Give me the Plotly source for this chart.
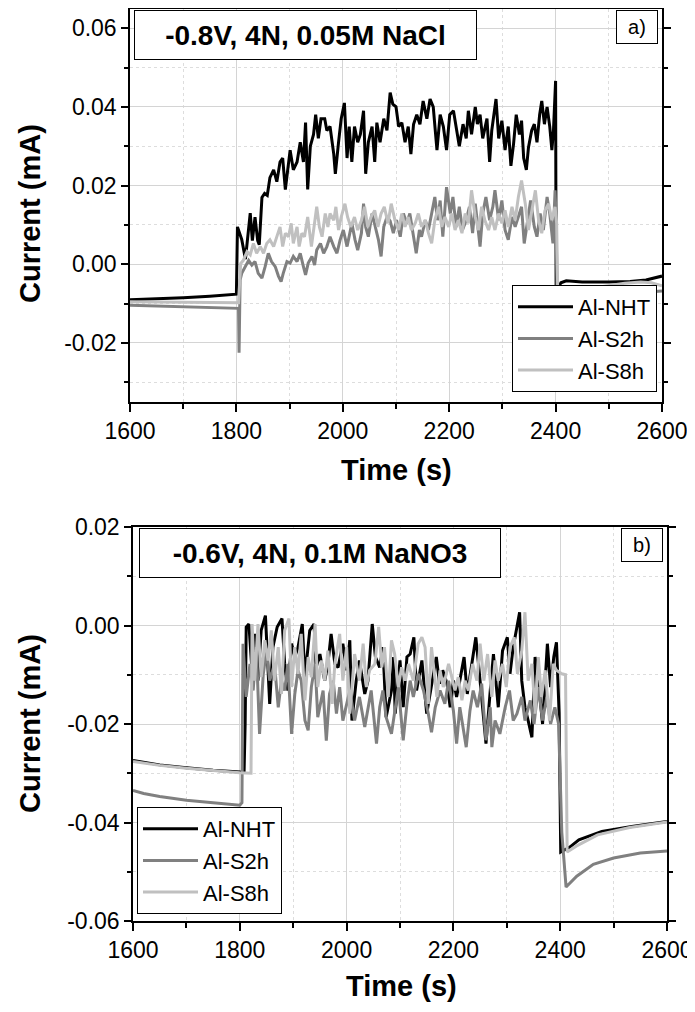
import plotly.graph_objects as go
from plotly.subplots import make_subplots

# ---------------- data: panel a) -0.8V, 4N, 0.05M NaCl ----------------
a_nht_t = [1600, 1650, 1700, 1750, 1800, 1802, 1810, 1817, 1823, 1826, 1830, 1835, 1840, 1843, 1848,
           1853, 1858, 1863, 1870, 1876, 1882, 1887, 1892, 1897, 1901, 1907, 1914, 1920, 1926, 1930,
           1934, 1939, 1945, 1949, 1954, 1959, 1966, 1970, 1976, 1983, 1986, 1992, 1997, 2003, 2008,
           2012, 2017, 2022, 2028, 2033, 2039, 2043, 2048, 2055, 2060, 2064, 2070, 2077, 2083, 2089,
           2094, 2100, 2105, 2111, 2117, 2123, 2128, 2133, 2139, 2145, 2151, 2158, 2164, 2170, 2177,
           2183, 2189, 2195, 2201, 2208, 2214, 2219, 2226, 2232, 2236, 2242, 2249, 2253, 2258, 2263,
           2271, 2276, 2280, 2288, 2293, 2299, 2305, 2311, 2316, 2321, 2326, 2332, 2336, 2340, 2345,
           2349, 2355, 2360, 2365, 2370, 2374, 2379, 2384, 2389, 2393, 2396, 2400, 2401, 2405, 2410,
           2420, 2450, 2500, 2540, 2570, 2590, 2600]
a_nht_i = [-0.0090, -0.0088, -0.0085, -0.0081, -0.0076, 0.0095, 0.0063, 0.0013, 0.0090, 0.0130, 0.0060,
           0.0120, 0.0060, 0.0050, 0.0170, 0.0180, 0.0175, 0.0220, 0.0240, 0.0210, 0.0260, 0.0270,
           0.0190, 0.0250, 0.0290, 0.0240, 0.0260, 0.0310, 0.0260, 0.0360, 0.0190, 0.0300, 0.0330,
           0.0380, 0.0320, 0.0370, 0.0370, 0.0340, 0.0350, 0.0280, 0.0230, 0.0310, 0.0370, 0.0410,
           0.0270, 0.0350, 0.0260, 0.0350, 0.0310, 0.0330, 0.0390, 0.0230, 0.0310, 0.0350, 0.0260,
           0.0360, 0.0310, 0.0370, 0.0340, 0.0436, 0.0407, 0.0400, 0.0350, 0.0360, 0.0310, 0.0350,
           0.0280, 0.0356, 0.0380, 0.0356, 0.0415, 0.0370, 0.0420, 0.0400, 0.0290, 0.0380, 0.0350,
           0.0290, 0.0380, 0.0390, 0.0340, 0.0300, 0.0356, 0.0320, 0.0390, 0.0330, 0.0400, 0.0356,
           0.0380, 0.0320, 0.0370, 0.0260, 0.0340, 0.0420, 0.0320, 0.0365, 0.0290, 0.0350, 0.0250,
           0.0306, 0.0380, 0.0330, 0.0365, 0.0270, 0.0240, 0.0297, 0.0340, 0.0356, 0.0310, 0.0380,
           0.0415, 0.0356, 0.0400, 0.0350, 0.0290, 0.0340, 0.0466, -0.0075, -0.0060, -0.0047,
           -0.0042, -0.0045, -0.0045, -0.0044, -0.0040, -0.0034, -0.0030]

a_s2h_t = [1600, 1700, 1800, 1804, 1805, 1807, 1810, 1816, 1823, 1829, 1835, 1841, 1848, 1854, 1860,
           1866, 1873, 1879, 1884, 1888, 1895, 1901, 1907, 1914, 1920, 1926, 1930, 1935, 1942, 1947,
           1951, 1958, 1964, 1970, 1976, 1983, 1989, 1995, 2001, 2008, 2012, 2017, 2023, 2028, 2035,
           2039, 2043, 2048, 2055, 2061, 2067, 2072, 2077, 2083, 2089, 2095, 2101, 2108, 2114, 2120,
           2126, 2133, 2138, 2144, 2148, 2155, 2161, 2167, 2173, 2178, 2183, 2188, 2195, 2202, 2207,
           2213, 2219, 2225, 2232, 2238, 2244, 2249, 2253, 2258, 2263, 2269, 2276, 2282, 2286, 2293,
           2299, 2305, 2311, 2318, 2324, 2330, 2336, 2341, 2347, 2353, 2360, 2365, 2371, 2377, 2384,
           2389, 2395, 2399, 2401, 2403, 2410, 2450, 2500, 2550, 2600]
a_s2h_i = [-0.0104, -0.0107, -0.0110, -0.0112, -0.0225, -0.0040, -0.0023, -0.0006, 0.0010, -0.0002,
           0.0007, -0.0023, -0.0035, -0.0006, 0.0028, 0.0007, -0.0006, -0.0030, -0.0044, -0.0023,
           0.0007, 0.0003, 0.0020, 0.0007, 0.0028, -0.0006, -0.0027, 0.0003, 0.0020, -0.0002, 0.0036,
           0.0053, 0.0028, 0.0045, 0.0070, 0.0045, 0.0028, 0.0062, 0.0087, 0.0045, 0.0070, 0.0104,
           0.0062, 0.0036, 0.0079, 0.0154, 0.0095, 0.0070, 0.0129, 0.0095, 0.0062, 0.0020, 0.0095,
           0.0120, 0.0110, 0.0079, 0.0112, 0.0070, 0.0129, 0.0104, 0.0129, 0.0070, 0.0028, 0.0087,
           0.0070, 0.0112, 0.0087, 0.0129, 0.0171, 0.0112, 0.0162, 0.0070, 0.0196, 0.0129, 0.0171,
           0.0095, 0.0146, 0.0087, 0.0112, 0.0146, 0.0079, 0.0154, 0.0112, 0.0045, 0.0129, 0.0171,
           0.0112, 0.0146, 0.0188, 0.0112, 0.0162, 0.0087, 0.0062, 0.0120, 0.0095, 0.0120, 0.0146,
           0.0053, 0.0104, 0.0162, 0.0095, 0.0070, 0.0129, 0.0087, 0.0171, 0.0129, 0.0053, 0.0188,
           0.0112, -0.0085, -0.0086, -0.0082, -0.0078, -0.0073, -0.0068]

a_s8h_t = [1600, 1700, 1800, 1804, 1808, 1813, 1820, 1826, 1832, 1838, 1845, 1851, 1857, 1863, 1870,
           1876, 1882, 1887, 1892, 1898, 1903, 1907, 1914, 1918, 1923, 1928, 1934, 1941, 1947, 1951,
           1956, 1961, 1967, 1972, 1976, 1983, 1987, 1992, 1997, 2004, 2009, 2015, 2022, 2028, 2035,
           2041, 2047, 2053, 2060, 2066, 2072, 2078, 2085, 2091, 2098, 2105, 2111, 2117, 2123, 2129,
           2136, 2142, 2148, 2155, 2161, 2167, 2173, 2180, 2186, 2192, 2199, 2205, 2211, 2217, 2224,
           2230, 2236, 2242, 2249, 2255, 2261, 2267, 2274, 2280, 2286, 2293, 2299, 2305, 2311, 2318,
           2324, 2330, 2336, 2343, 2349, 2355, 2362, 2368, 2374, 2380, 2387, 2393, 2399, 2402, 2404,
           2410, 2430, 2460, 2500, 2530, 2560, 2580, 2600]
a_s8h_i = [-0.0095, -0.0096, -0.0098, -0.0098, 0.0002, 0.0010, 0.0032, 0.0024, 0.0053, 0.0028, 0.0045,
           0.0028, 0.0053, 0.0062, 0.0045, 0.0070, 0.0095, 0.0045, 0.0079, 0.0070, 0.0104, 0.0053,
           0.0095, 0.0045, 0.0079, 0.0070, 0.0120, 0.0045, 0.0104, 0.0146, 0.0095, 0.0070, 0.0129,
           0.0095, 0.0129, 0.0112, 0.0146, 0.0087, 0.0120, 0.0154, 0.0120, 0.0095, 0.0120, 0.0087,
           0.0112, 0.0146, 0.0095, 0.0120, 0.0137, 0.0095, 0.0129, 0.0146, 0.0104, 0.0154, 0.0112,
           0.0087, 0.0129, 0.0095, 0.0120, 0.0087, 0.0104, 0.0129, 0.0095, 0.0112, 0.0079, 0.0053,
           0.0112, 0.0146, 0.0095, 0.0120, 0.0095, 0.0129, 0.0087, 0.0112, 0.0079, 0.0129, 0.0104,
           0.0188, 0.0120, 0.0087, 0.0146, 0.0112, 0.0087, 0.0120, 0.0087, 0.0129, 0.0104, 0.0137,
           0.0095, 0.0146, 0.0112, 0.0171, 0.0213, 0.0154, 0.0087, 0.0129, 0.0188, 0.0112, 0.0079,
           0.0137, 0.0154, 0.0112, 0.0146, 0.0104, -0.0073, -0.0075, -0.0068, -0.0062, -0.0055,
           -0.0048, -0.0045, -0.0047, -0.0055]

# ---------------- data: panel b) -0.6V, 4N, 0.1M NaNO3 ----------------
b_nht_t = [1600, 1650, 1700, 1750, 1808, 1810, 1812, 1817, 1822, 1828, 1834, 1840, 1848, 1856, 1862,
           1870, 1879, 1884, 1890, 1897, 1903, 1909, 1917, 1922, 1931, 1939, 1943, 1950, 1959, 1965,
           1971, 1978, 1984, 1993, 2000, 2006, 2010, 2018, 2024, 2034, 2040, 2048, 2054, 2062, 2068,
           2074, 2084, 2088, 2091, 2094, 2100, 2106, 2113, 2119, 2126, 2131, 2141, 2150, 2156, 2168,
           2174, 2180, 2188, 2194, 2200, 2206, 2212, 2220, 2226, 2234, 2242, 2247, 2255, 2261, 2269,
           2275, 2284, 2292, 2301, 2306, 2312, 2319, 2324, 2328, 2334, 2340, 2347, 2353, 2359, 2367,
           2376, 2382, 2388, 2393, 2398, 2401, 2418, 2435, 2478, 2534, 2600]
b_nht_i = [-0.0274, -0.0283, -0.0289, -0.0294, -0.0298, -0.0200, -0.0003, 0.0003, -0.0078, -0.0017,
           -0.0112, -0.0010, 0.0020, -0.0159, -0.0044, -0.0003, 0.0014, -0.0078, -0.0132, -0.0037,
           -0.0064, -0.0044, 0.0003, -0.0105, -0.0010, 0.0003, -0.0085, -0.0058, -0.0112, -0.0078,
           -0.0017, -0.0078, -0.0085, -0.0037, -0.0091, -0.0030, -0.0193, -0.0112, -0.0071, -0.0139,
           -0.0112, 0.0003, -0.0064, -0.0085, -0.0044, -0.0186, -0.0132, -0.0064, -0.0179, -0.0145,
           -0.0071, -0.0166, -0.0064, -0.0058, -0.0024, -0.0132, -0.0071, -0.0179, -0.0139, -0.0064,
           -0.0118, -0.0091, -0.0118, -0.0166, -0.0112, -0.0145, -0.0112, -0.0064, -0.0139, -0.0085,
           -0.0024, -0.0078, -0.0166, -0.0240, -0.0132, -0.0058, -0.0166, -0.0051, -0.0024, -0.0098,
           -0.0044, -0.0003, 0.0027, -0.0112, -0.0166, -0.0193, -0.0227, -0.0064, -0.0112, -0.0200,
           -0.0037, -0.0125, -0.0064, -0.0034, -0.0179, -0.0460, -0.0450, -0.0435, -0.0418, -0.0408,
           -0.0398]

b_s2h_t = [1600, 1620, 1650, 1700, 1750, 1800, 1804, 1806, 1812, 1819, 1825, 1831, 1837, 1844, 1850,
           1856, 1865, 1872, 1878, 1884, 1890, 1897, 1903, 1909, 1915, 1922, 1928, 1934, 1941, 1946,
           1956, 1962, 1968, 1975, 1981, 1987, 1993, 2000, 2006, 2015, 2024, 2034, 2040, 2046, 2056,
           2062, 2068, 2074, 2084, 2091, 2097, 2106, 2113, 2119, 2125, 2134, 2144, 2153, 2159, 2166,
           2175, 2184, 2191, 2200, 2206, 2212, 2224, 2231, 2237, 2245, 2253, 2261, 2269, 2272, 2278,
           2287, 2297, 2305, 2312, 2319, 2328, 2334, 2344, 2351, 2359, 2367, 2375, 2382, 2390, 2397,
           2403, 2411, 2431, 2462, 2500, 2550, 2600]
b_s2h_i = [-0.0335, -0.0341, -0.0347, -0.0355, -0.0360, -0.0365, -0.0360, -0.0037, -0.0145, -0.0078,
           -0.0132, -0.0044, -0.0220, -0.0098, -0.0051, -0.0112, -0.0078, -0.0166, -0.0112, -0.0132,
           -0.0078, -0.0220, -0.0139, -0.0091, -0.0112, -0.0193, -0.0213, -0.0125, -0.0078, -0.0186,
           -0.0132, -0.0234, -0.0139, -0.0112, -0.0179, -0.0125, -0.0193, -0.0159, -0.0132, -0.0193,
           -0.0145, -0.0206, -0.0166, -0.0132, -0.0240, -0.0166, -0.0132, -0.0186, -0.0220, -0.0166,
           -0.0125, -0.0233, -0.0159, -0.0112, -0.0145, -0.0098, -0.0132, -0.0179, -0.0217, -0.0166,
           -0.0132, -0.0159, -0.0112, -0.0173, -0.0240, -0.0166, -0.0247, -0.0173, -0.0132, -0.0166,
           -0.0118, -0.0233, -0.0166, -0.0247, -0.0193, -0.0220, -0.0166, -0.0132, -0.0193, -0.0179,
           -0.0145, -0.0193, -0.0152, -0.0200, -0.0125, -0.0193, -0.0145, -0.0200, -0.0166, -0.0200,
           -0.0420, -0.0531, -0.0509, -0.0485, -0.0472, -0.0462, -0.0458]

b_s8h_t = [1600, 1650, 1700, 1750, 1800, 1821, 1823, 1828, 1834, 1840, 1847, 1853, 1859, 1865, 1872,
           1878, 1884, 1892, 1897, 1903, 1909, 1915, 1922, 1928, 1934, 1941, 1946, 1953, 1959, 1965,
           1973, 1978, 1987, 1993, 2000, 2006, 2015, 2024, 2031, 2037, 2043, 2053, 2060, 2066, 2071,
           2078, 2084, 2090, 2097, 2103, 2110, 2116, 2125, 2134, 2141, 2147, 2153, 2159, 2169, 2175,
           2181, 2191, 2197, 2203, 2209, 2216, 2222, 2228, 2236, 2244, 2250, 2257, 2264, 2272, 2278,
           2284, 2292, 2299, 2306, 2314, 2320, 2328, 2334, 2340, 2347, 2353, 2359, 2365, 2372, 2380,
           2387, 2393, 2403, 2410, 2413, 2430, 2470, 2530, 2600]
b_s8h_i = [-0.0276, -0.0284, -0.0290, -0.0295, -0.0299, -0.0300, 0.0003, -0.0112, 0.0003, -0.0105,
           -0.0030, -0.0071, -0.0010, -0.0112, -0.0044, -0.0139, -0.0010, 0.0014, -0.0125, -0.0044,
           -0.0098, -0.0017, -0.0152, -0.0064, -0.0105, 0.0003, -0.0125, -0.0071, -0.0112, -0.0051,
           -0.0159, -0.0078, -0.0017, -0.0112, -0.0044, -0.0179, -0.0058, -0.0112, -0.0037, -0.0125,
           -0.0091, -0.0078, -0.0003, -0.0085, -0.0044, -0.0145, -0.0030, -0.0058, -0.0125, -0.0085,
           -0.0112, -0.0078, -0.0112, -0.0037, -0.0024, -0.0044, -0.0159, -0.0044, -0.0145, -0.0091,
           -0.0125, -0.0078, -0.0105, -0.0132, -0.0105, -0.0152, -0.0112, -0.0132, -0.0078, -0.0112,
           -0.0037, -0.0112, -0.0058, -0.0145, -0.0071, -0.0112, -0.0078, -0.0125, -0.0044, -0.0024,
           -0.0098, -0.0051, 0.0027, -0.0112, -0.0078, -0.0179, -0.0064, -0.0145, -0.0091, -0.0193,
           -0.0078, -0.0091, -0.0098, -0.0100, -0.0460, -0.0448, -0.0425, -0.0410, -0.0399]

names = ["Al-NHT", "Al-S2h", "Al-S8h"]
colors = ["#000000", "#808080", "#c0c0c0"]

a_yticks = [-0.02, 0.00, 0.02, 0.04, 0.06]
a_yticktext = ["-0.02", "0.00", "0.02", "0.04", "0.06"]
b_yticks = [-0.06, -0.04, -0.02, 0.00, 0.02]
b_yticktext = ["-0.06", "-0.04", "-0.02", "0.00", "0.02"]
x_ticks = [1600, 1800, 2000, 2200, 2400, 2600]

FONT = "Liberation Sans, Arial, sans-serif"
# the page body keeps its default 8px margin, so the figure is drawn 8px in from the corner
OFF = 8
W, H = 695 - OFF, 1012 - 2 * OFF

fig = make_subplots(rows=2, cols=1)

panel_a = [(a_nht_t, a_nht_i), (a_s2h_t, a_s2h_i), (a_s8h_t, a_s8h_i)]
panel_b = [(b_nht_t, b_nht_i), (b_s2h_t, b_s2h_i), (b_s8h_t, b_s8h_i)]

for k, (t, i) in enumerate(panel_a):
    fig.add_trace(go.Scatter(x=t, y=i, mode="lines", name=names[k],
                             line=dict(color=colors[k], width=3), legend="legend"),
                  row=1, col=1)
for k, (t, i) in enumerate(panel_b):
    fig.add_trace(go.Scatter(x=t, y=i, mode="lines", name=names[k],
                             line=dict(color=colors[k], width=3), legend="legend2"),
                  row=2, col=1)


def px_x(p):
    return min(1.0, max(0.0, (p - OFF) / W))


def px_y(p):
    return min(1.0, max(0.0, 1 - (p - OFF) / H))


xax = dict(range=[1600, 2600], tickvals=x_ticks, ticks="outside", ticklen=8, tickwidth=1.5,
           tickcolor="black", showline=True, linecolor="black", linewidth=1.5, mirror=True,
           showgrid=True, gridcolor="#d4d4d4", gridwidth=1, zeroline=False, automargin=False,
           tickfont=dict(family=FONT, size=23, color="black"),
           minor=dict(tickvals=[1700, 1900, 2100, 2300, 2500], ticks="outside", ticklen=5,
                      tickcolor="black", tickwidth=1.5, showgrid=True, gridcolor="#dddddd",
                      griddash="dot", gridwidth=1))
yax = dict(ticks="outside", ticklen=7, tickwidth=1.5, tickcolor="black", showline=True,
           linecolor="black", linewidth=1.5, mirror="allticks", showgrid=True,
           gridcolor="#d4d4d4", gridwidth=1, zeroline=False, automargin=False,
           tickfont=dict(family=FONT, size=23, color="black"))

fig.update_xaxes(**xax)
fig.update_yaxes(**yax)
fig.update_xaxes(domain=[px_x(130), px_x(662)], row=1, col=1)
fig.update_xaxes(domain=[px_x(133), px_x(667)], row=2, col=1)
fig.update_yaxes(domain=[px_y(402), px_y(8.5)], range=[-0.035, 0.065], tickvals=a_yticks,
                 ticktext=a_yticktext,
                 minor=dict(tickvals=[-0.03, -0.01, 0.01, 0.03, 0.05], ticks="outside", ticklen=4,
                            tickcolor="black", tickwidth=1.5, showgrid=True,
                            gridcolor="#dddddd", griddash="dot", gridwidth=1),
                 row=1, col=1)
fig.update_yaxes(domain=[px_y(921), px_y(527)], range=[-0.06, 0.02], tickvals=b_yticks,
                 ticktext=b_yticktext,
                 minor=dict(tickvals=[-0.05, -0.03, -0.01, 0.01], ticks="outside", ticklen=4,
                            tickcolor="black", tickwidth=1.5, showgrid=True,
                            gridcolor="#dddddd", griddash="dot", gridwidth=1),
                 row=2, col=1)

legend_style = dict(bgcolor="white", bordercolor="black", borderwidth=1, tracegroupgap=0,
                    font=dict(family=FONT, size=22, color="black"), itemwidth=55)

annots = []
box = dict(xref="paper", yref="paper", showarrow=False, bordercolor="black", borderwidth=1,
           bgcolor="white", align="center")
annots.append(dict(box, x=px_x(134), y=px_y(10), xanchor="left", yanchor="top",
                   text="<b>-0.8V, 4N, 0.05M NaCl</b>", width=325, height=32, borderpad=8,
                   font=dict(family=FONT, size=28, color="black")))
annots.append(dict(box, x=px_x(658), y=px_y(10), xanchor="right", yanchor="top", text="a)",
                   width=30, height=22, borderpad=5,
                   font=dict(family=FONT, size=20, color="black")))
annots.append(dict(box, x=px_x(139), y=px_y(528), xanchor="left", yanchor="top",
                   text="<b>-0.6V, 4N, 0.1M NaNO3</b>", width=344, height=32, borderpad=8,
                   font=dict(family=FONT, size=28, color="black")))
annots.append(dict(box, x=px_x(663), y=px_y(528), xanchor="right", yanchor="top", text="b)",
                   width=30, height=22, borderpad=5,
                   font=dict(family=FONT, size=20, color="black")))

title_font = dict(family=FONT, size=29, color="black")
for yc in (214, 724):
    annots.append(dict(xref="paper", yref="paper", x=px_x(30), y=px_y(yc), showarrow=False,
                       text="<b>Current (mA)</b>", textangle=-90, font=title_font,
                       xanchor="center", yanchor="middle"))
for xc, yc in ((397, 470), (401, 986)):
    annots.append(dict(xref="paper", yref="paper", x=px_x(xc), y=px_y(yc), showarrow=False,
                       text="<b>Time (s)</b>", font=title_font,
                       xanchor="center", yanchor="middle"))

fig.update_layout(
    width=W, height=H,
    margin=dict(l=0, r=0, t=0, b=0),
    plot_bgcolor="white", paper_bgcolor="white",
    font=dict(family=FONT, color="black"),
    legend=dict(legend_style, x=px_x(657), y=px_y(392), xanchor="right", yanchor="bottom"),
    legend2=dict(legend_style, x=px_x(137), y=px_y(914), xanchor="left", yanchor="bottom"),
    annotations=annots,
)

fig.write_html("out.html")
